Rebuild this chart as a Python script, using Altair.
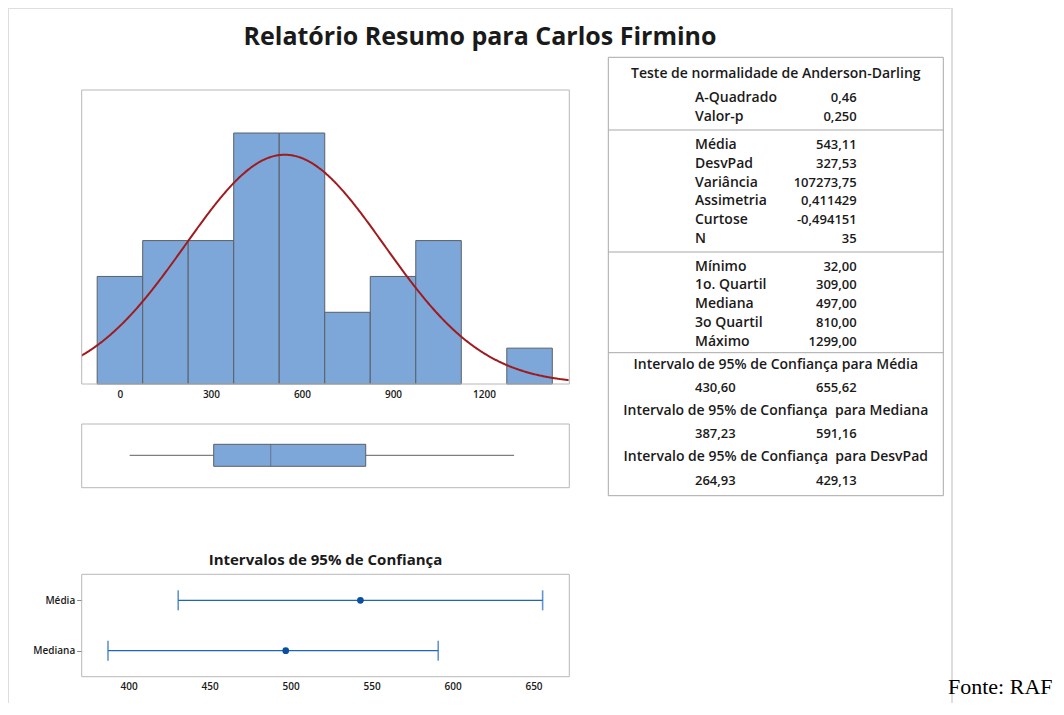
import altair as alt
import pandas as pd

# ---------------- data ----------------
title_text = "Relatório Resumo para Carlos Firmino"
source_text = "Fonte: RAF"

bin_centers = [0, 150, 300, 450, 600, 750, 900, 1050, 1200, 1350]
bin_counts = [3, 4, 4, 7, 7, 2, 3, 4, 0, 1]
bin_width = 150
hist_ticks = [0, 300, 600, 900, 1200]

n_obs = 35
mean_val = 543.11
sd_val = 327.53

box_stats = {"min": 32.0, "q1": 309.0, "median": 497.0, "q3": 810.0, "max": 1299.0}

ci_names = ["Média", "Mediana"]
ci_est = [543.11, 497.0]
ci_low = [430.60, 387.23]
ci_high = [655.62, 591.16]
ci_ticks = [400, 450, 500, 550, 600, 650]
ci_title = "Intervalos de 95% de Confiança"

ad_title = "Teste de normalidade de Anderson-Darling"
ad_labels = ["A-Quadrado", "Valor-p"]
ad_values = ["0,46", "0,250"]
stat_labels = ["Média", "DesvPad", "Variância", "Assimetria", "Curtose", "N"]
stat_values = ["543,11", "327,53", "107273,75", "0,411429", "-0,494151", "35"]
quart_labels = ["Mínimo", "1o. Quartil", "Mediana", "3o Quartil", "Máximo"]
quart_values = ["32,00", "309,00", "497,00", "810,00", "1299,00"]
tab_ci_titles = ["Intervalo de 95% de Confiança para Média",
                 "Intervalo de 95% de Confiança\u00a0 para Mediana",
                 "Intervalo de 95% de Confiança\u00a0 para DesvPad"]
tab_ci_keys = ["Média", "Mediana", "DesvPad"]
tab_ci_low = ["430,60", "387,23", "264,93"]
tab_ci_high = ["655,62", "591,16", "429,13"]

# ---------------- layout (pixels) ----------------
W, H = 1048, 695
FONT = "Open Sans"
TXT = "#1a1a1a"
PX0, PX1 = 73.7, 561.3
HIST_Y0, HIST_Y1 = 82, 376
BOX_Y0, BOX_Y1 = 416, 479.7
BOX_BAND = [436.3, 458.3]
CI_Y0, CI_Y1 = 566.3, 668.7
CI_ROWS = [592.3, 642.7]
TAB_X0, TAB_X1 = 600.3, 935.3
TAB_Y0, TAB_Y1 = 49.3, 487.7
TAB_SEP = [122, 244, 344.7]
TAB_CX = (TAB_X0 + TAB_X1) / 2
LAB_X, VAL_X = 687, 848.7
FS_L = 14   # letters
FS_N = 13   # numbers

HX = alt.Scale(domain=[-126, 1481], range=[PX0, PX1], nice=False, zero=False)
HY = alt.Scale(domain=[0, 8.2], range=[HIST_Y1, HIST_Y0], nice=False, zero=False)
CX = alt.Scale(domain=[371, 672.1], range=[PX0, PX1], nice=False, zero=False)
CY = alt.Scale(type="point", domain=ci_names, range=CI_ROWS, padding=0)
BY = alt.Scale(type="band", domain=["box"], range=BOX_BAND, paddingInner=0, paddingOuter=0)

one = pd.DataFrame({"k": [0]})


def frame(x0, x1, y0, y1, color, sw=1):
    return alt.Chart(one).mark_rect(fillOpacity=0, stroke=color, strokeWidth=sw).encode(
        x=alt.value(x0), x2=alt.value(x1), y=alt.value(y0), y2=alt.value(y1))


def hline(x0, x1, y, color):
    return alt.Chart(one).mark_rule(color=color, strokeWidth=1).encode(
        x=alt.value(x0), x2=alt.value(x1), y=alt.value(y))


def label(text, x, y, size, weight="normal", align="center", font=FONT, color=TXT, baseline="middle"):
    return alt.Chart(pd.DataFrame({"t": [text]})).mark_text(
        font=font, fontSize=size, fontWeight=weight, align=align, baseline=baseline, color=color
    ).encode(x=alt.value(x), y=alt.value(y), text="t:N")


# ---------------- histogram ----------------
hist_df = pd.DataFrame({"center": bin_centers, "count": bin_counts})
hist_df = hist_df[hist_df["count"] > 0].copy()
hist_df["start"] = hist_df["center"] - bin_width / 2
hist_df["end"] = hist_df["center"] + bin_width / 2

axis_common = dict(orient="bottom", grid=False, domain=False, ticks=False, tickSize=0,
                   labelPadding=5, labelFont=FONT, labelFontSize=10, labelColor=TXT,
                   labelFontWeight=600, format="d")

bars = alt.Chart(hist_df).mark_rect(fill="#7DA7D9", stroke="#5a5f66", strokeWidth=1).encode(
    x=alt.X("start:Q", scale=HX, title=None,
            axis=alt.Axis(values=hist_ticks, offset=HIST_Y1 - H, **axis_common)),
    x2="end:Q",
    y=alt.Y("count:Q", scale=HY, axis=None),
    y2=alt.datum(0),
)

curve = alt.Chart(alt.sequence(-126, 1482, 3, as_="x")).transform_calculate(
    y=f"{n_obs}*{bin_width}*densityNormal(datum.x, {mean_val}, {sd_val})"
).mark_line(color="#A01B1E", strokeWidth=2).encode(
    x=alt.X("x:Q", scale=HX, axis=None),
    y=alt.Y("y:Q", scale=HY, axis=None),
)

# ---------------- boxplot ----------------
box_df = pd.DataFrame([{**box_stats, "row": "box"}])
by = alt.Y("row:N", scale=BY, axis=None)
whisk_lo = alt.Chart(box_df).mark_rule(color="#5a5f66", strokeWidth=1).encode(
    x=alt.X("min:Q", scale=HX, axis=None), x2="q1:Q", y=by)
whisk_hi = alt.Chart(box_df).mark_rule(color="#5a5f66", strokeWidth=1).encode(
    x=alt.X("q3:Q", scale=HX, axis=None), x2="max:Q", y=by)
box = alt.Chart(box_df).mark_bar(fill="#7DA7D9", stroke="#5a5f66", strokeWidth=1).encode(
    x=alt.X("q1:Q", scale=HX, axis=None), x2="q3:Q", y=by)
med = alt.Chart(box_df).mark_tick(color="#5a5f66", thickness=1, size=22, orient="vertical").encode(
    x=alt.X("median:Q", scale=HX, axis=None), y=by)

# ---------------- confidence intervals ----------------
ci_df = pd.DataFrame({"name": ci_names, "est": ci_est, "low": ci_low, "high": ci_high})
cy_axis = alt.Y("name:N", scale=CY, title=None,
                axis=alt.Axis(orient="left", offset=-PX0, grid=False, domain=False, tickSize=5,
                              tickColor="#8a8a8a", labelPadding=2, labelFont=FONT, labelFontSize=10,
                              labelColor=TXT, labelFontWeight=600))
cy_plain = alt.Y("name:N", scale=CY, axis=None)
CIC = "#1F66B8"
ci_line = alt.Chart(ci_df).mark_rule(color=CIC, strokeWidth=1.3).encode(
    x=alt.X("low:Q", scale=CX, title=None,
            axis=alt.Axis(values=ci_ticks, offset=CI_Y1 - H, **axis_common)),
    x2="high:Q", y=cy_axis)
cap_lo = alt.Chart(ci_df).mark_tick(color=CIC, thickness=1.6, size=20, orient="vertical").encode(
    x=alt.X("low:Q", scale=CX, axis=None), y=cy_plain)
cap_hi = alt.Chart(ci_df).mark_tick(color=CIC, thickness=1.6, size=20, orient="vertical").encode(
    x=alt.X("high:Q", scale=CX, axis=None), y=cy_plain)
ci_pt = alt.Chart(ci_df).mark_circle(color="#0A50A0", opacity=1, size=45).encode(
    x=alt.X("est:Q", scale=CX, axis=None), y=cy_plain)


# ---------------- table ----------------
def section(labels, values, y0, y1):
    df = pd.DataFrame({"label": labels, "value": values})
    yy = alt.Y("label:N", sort=None, axis=None,
               scale=alt.Scale(type="point", domain=labels, range=[y0, y1], padding=0))
    base = alt.Chart(df).encode(y=yy)
    lab = base.mark_text(align="left", baseline="middle", font=FONT, fontSize=FS_L, fontWeight=600,
                         color=TXT).encode(x=alt.value(LAB_X), text="label:N")
    val = base.mark_text(align="right", baseline="middle", font=FONT, fontSize=FS_N, fontWeight=600,
                         color=TXT).encode(x=alt.value(VAL_X), text="value:N")
    return [lab, val]


ci_tab_df = pd.DataFrame({"key": tab_ci_keys, "title": tab_ci_titles,
                          "low": tab_ci_low, "high": tab_ci_high})
ci_head = alt.Chart(ci_tab_df).mark_text(align="center", baseline="middle", font=FONT, fontSize=FS_L,
                                         fontWeight=600, color=TXT).encode(
    x=alt.value(TAB_CX), text="title:N",
    y=alt.Y("key:N", sort=None, axis=None,
            scale=alt.Scale(type="point", domain=tab_ci_keys, range=[357, 449.3], padding=0)))
ci_vy = alt.Y("key:N", sort=None, axis=None,
              scale=alt.Scale(type="point", domain=tab_ci_keys, range=[379.7, 473], padding=0))
ci_lo_t = alt.Chart(ci_tab_df).mark_text(align="left", baseline="middle", font=FONT, fontSize=FS_N,
                                         fontWeight=600, color=TXT).encode(
    x=alt.value(LAB_X), y=ci_vy, text="low:N")
ci_hi_t = alt.Chart(ci_tab_df).mark_text(align="right", baseline="middle", font=FONT, fontSize=FS_N,
                                         fontWeight=600, color=TXT).encode(
    x=alt.value(VAL_X), y=ci_vy, text="high:N")

layers = [
    frame(0, 944, 0, 740, "#dedede", 2),
    label(title_text, 472, 29, 25, "bold"),
    bars, curve,
    frame(PX0, PX1, HIST_Y0, HIST_Y1, "#b8b8b8"),
    whisk_lo, whisk_hi, box, med,
    frame(PX0, PX1, BOX_Y0, BOX_Y1, "#b8b8b8"),
    label(ci_title, (PX0 + PX1) / 2, 552, 15, "bold"),
    ci_line, cap_lo, cap_hi, ci_pt,
    frame(PX0, PX1, CI_Y0, CI_Y1, "#b8b8b8"),
    frame(TAB_X0, TAB_X1, TAB_Y0, TAB_Y1, "#a8a8a8"),
    hline(TAB_X0, TAB_X1, TAB_SEP[0], "#a8a8a8"),
    hline(TAB_X0, TAB_X1, TAB_SEP[1], "#a8a8a8"),
    hline(TAB_X0, TAB_X1, TAB_SEP[2], "#a8a8a8"),
    label(ad_title, TAB_CX, 66.3, FS_L, 600),
    *section(ad_labels, ad_values, 90.3, 108.7),
    *section(stat_labels, stat_values, 137, 231),
    *section(quart_labels, quart_values, 258.7, 333.7),
    ci_head, ci_lo_t, ci_hi_t,
    label(source_text, 940, 686, 22, "normal", "left", "Liberation Serif", "#000000", "alphabetic"),
]

chart = alt.layer(*layers).resolve_scale(x="independent", y="independent").properties(
    width=W, height=H, autosize=alt.AutoSizeParams(type="none"), padding=0, background="white"
).configure_view(strokeWidth=0)

chart.save("out.html", embed_options={"renderer": "svg", "actions": False})
